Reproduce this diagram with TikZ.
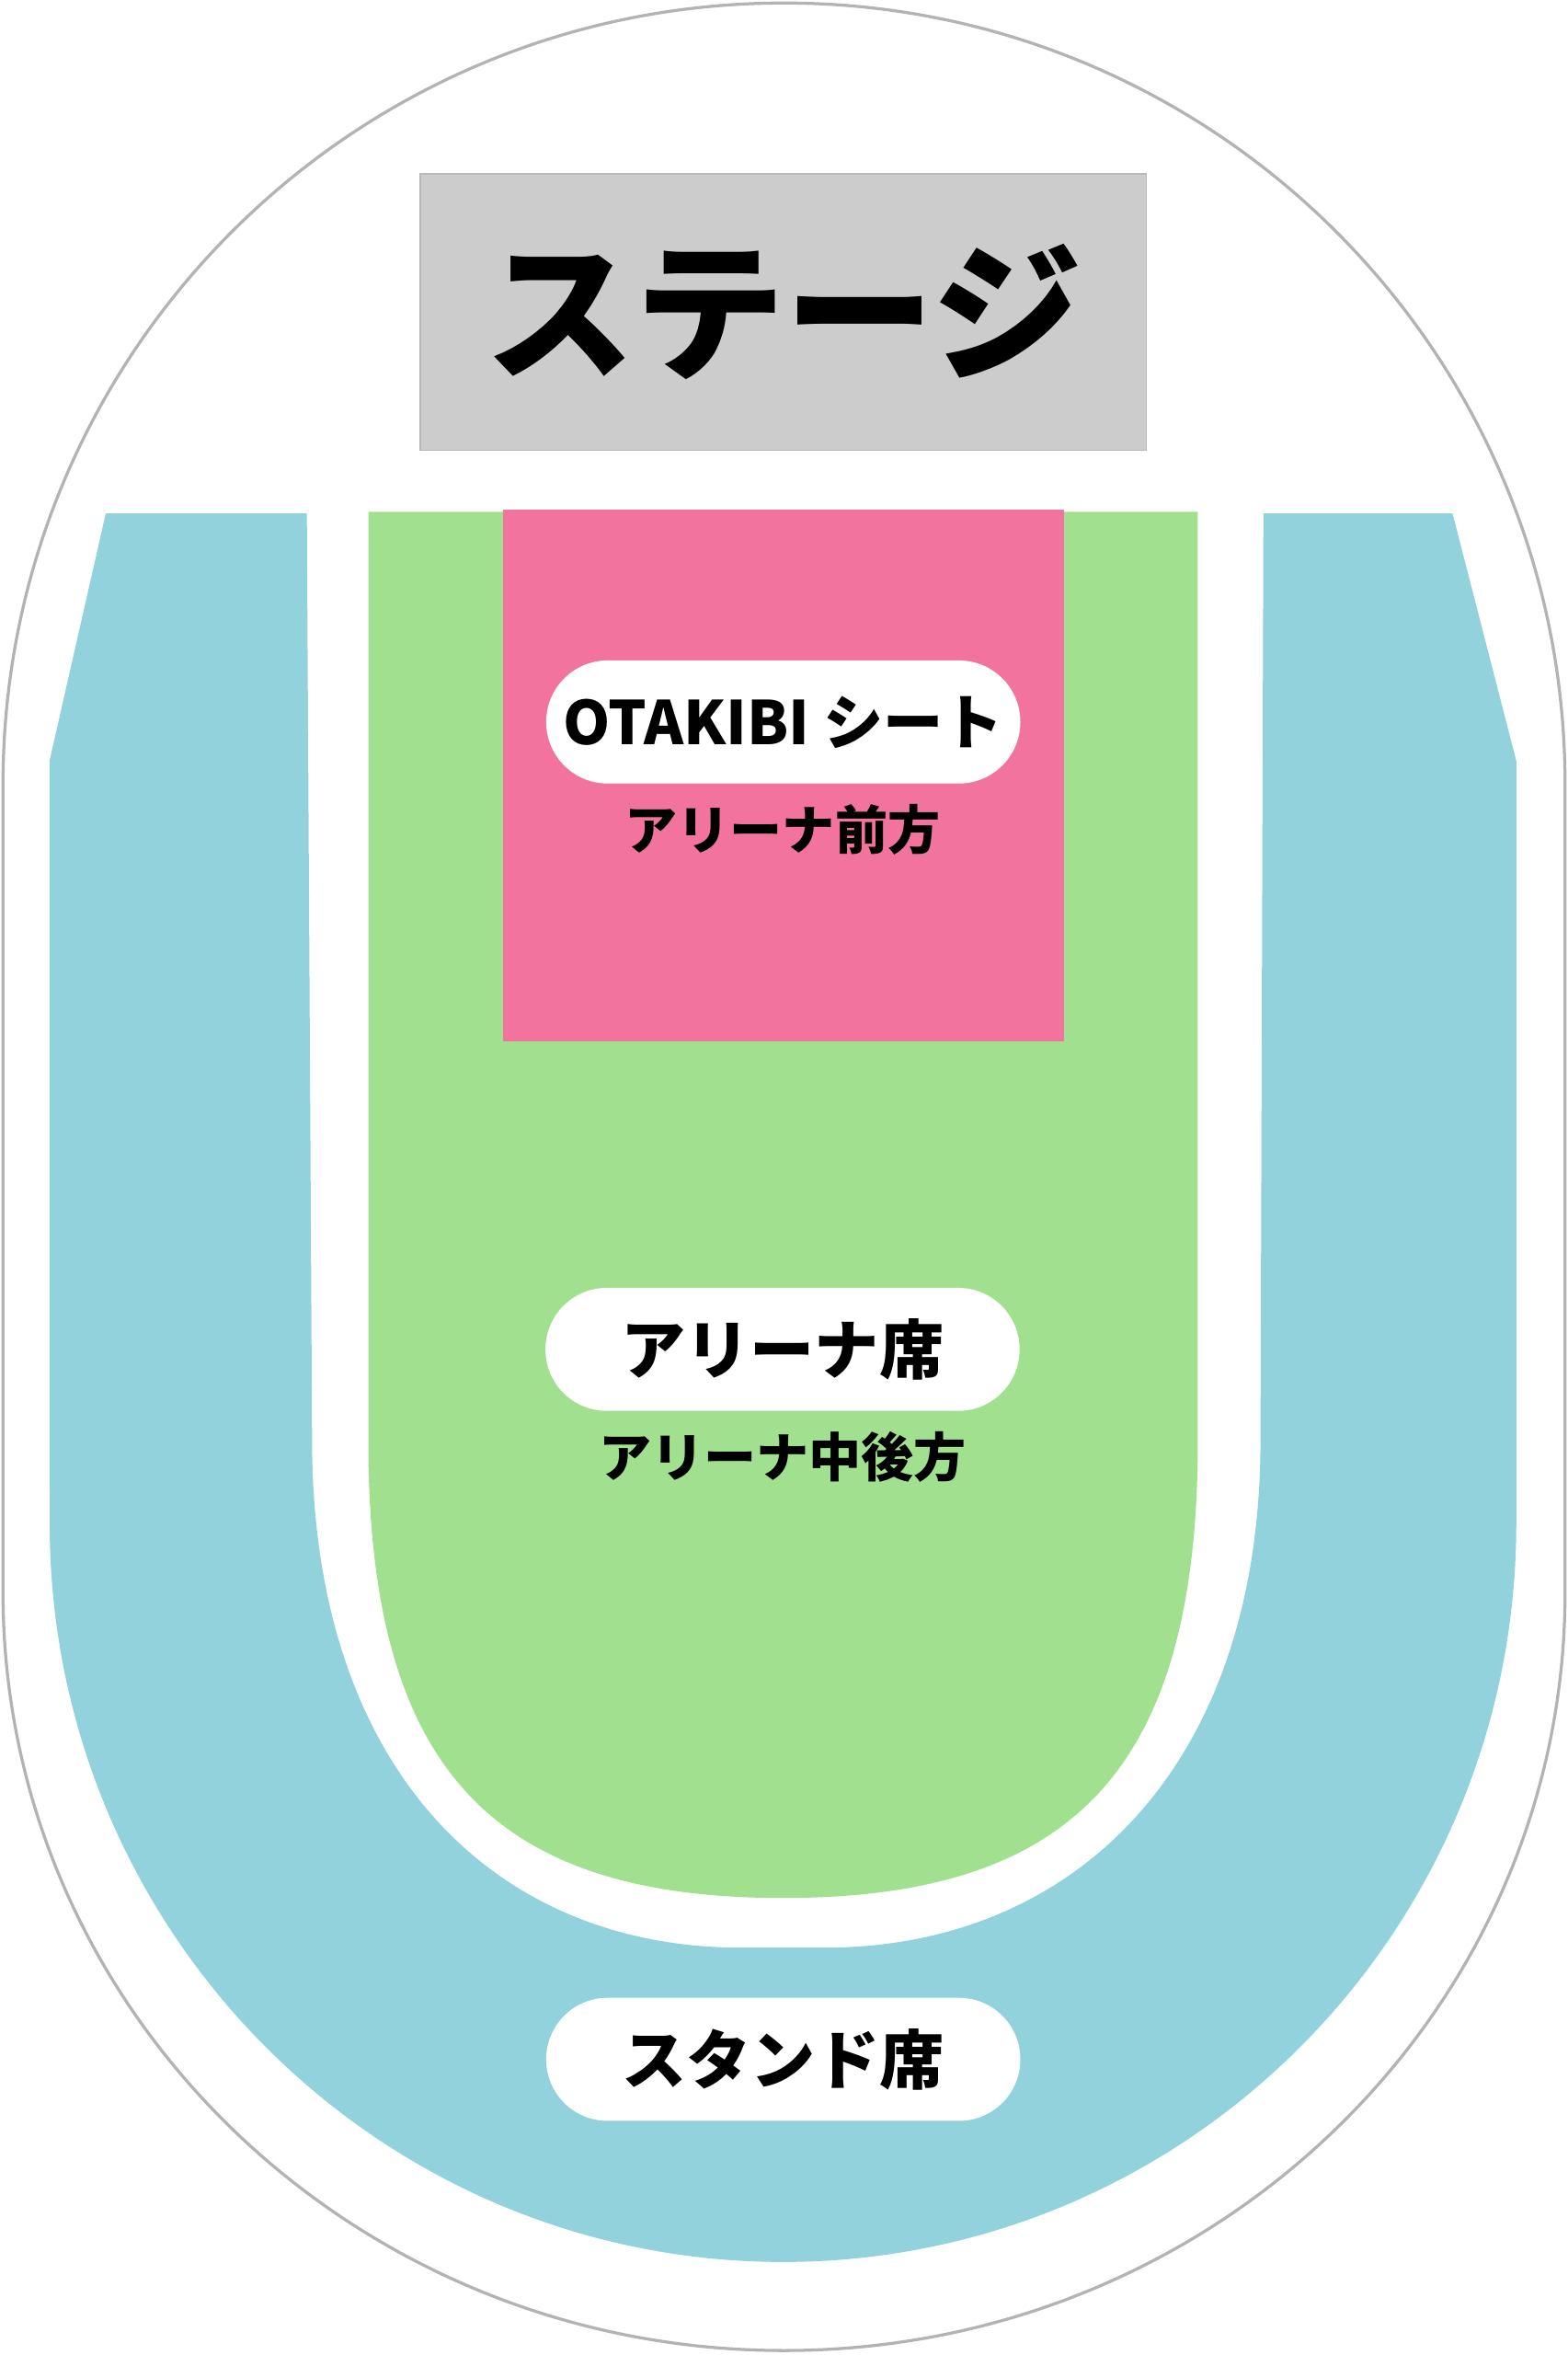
\documentclass[tikz,border=0pt]{standalone}
\usepackage{fontspec}
\setmainfont{Noto Sans CJK JP}
\definecolor{standc}{HTML}{92D2DC}
\definecolor{arenac}{HTML}{A1E08E}
\definecolor{frontc}{HTML}{F2749E}
\definecolor{stagec}{HTML}{CCCCCC}
\definecolor{outlinec}{HTML}{B3B3B3}
\begin{document}
\begin{tikzpicture}[x=0.5pt,y=-0.5pt,
  pill/.style={fill=white, rounded corners=20.5pt, minimum width=158pt, minimum height=41pt, inner sep=0pt,
    font=\bfseries\fontsize{21.5}{21.5}\selectfont},
  sublabel/.style={inner sep=0pt, font=\bfseries\fontsize{17.5}{17.5}\selectfont},
  stagebox/.style={fill=stagec, draw=outlinec!80!stagec, line width=0.5pt, minimum width=242pt, minimum height=92pt, inner sep=0pt,
    font=\bfseries\fontsize{50}{50}\selectfont}]
\useasboundingbox (0,0) rectangle (1044.4,1569);
\fill[white] (0,0) rectangle (1044.4,1569);
% outer outline
\draw[outlinec, line width=1pt] (2,1061) -- (2,522.5) arc[start angle=180, end angle=360, radius=520.5]
  -- (1043,1061) arc[start angle=0, end angle=180, x radius=520.5, y radius=505] -- cycle;
% stand seats
\fill[standc] (33,507) -- (70.5,342) -- (204.5,342) -- (208,965)
  .. controls (210,1180) and (330,1297.6) .. (494,1297.6) -- (549.7,1297.6)
  .. controls (713.7,1297.6) and (838,1180) .. (840,965) -- (842,342) -- (968,342) -- (1010.5,507)
  -- (1010.5,1015) arc[start angle=0, end angle=180, x radius=488.7, y radius=492] -- cycle;
% arena
\fill[arenac] (245.5,341) -- (798.2,341) -- (798.2,970)
  .. controls (795.6,1180) and (713.5,1264.5) .. (521.8,1264.5)
  .. controls (330,1264.5) and (248,1180) .. (245.5,970) -- cycle;
% front
\fill[frontc] (335.2,339.7) rectangle (709,694);
% stage
\node[stagebox] (stage) at (522,208) {ステージ};
% labels
\node[pill, font=\bfseries\fontsize{20}{20}\selectfont] (otakibi) at (522,481) {OTAKIBI シート};
\node[sublabel] (frontlbl) at (521.5,553) {アリーナ前方};
\node[pill] (arena) at (521.5,899) {アリーナ席};
\node[sublabel] (midlbl) at (521.5,970.5) {アリーナ中後方};
\node[pill] (stand) at (522,1372) {スタンド席};
\end{tikzpicture}
\end{document}
